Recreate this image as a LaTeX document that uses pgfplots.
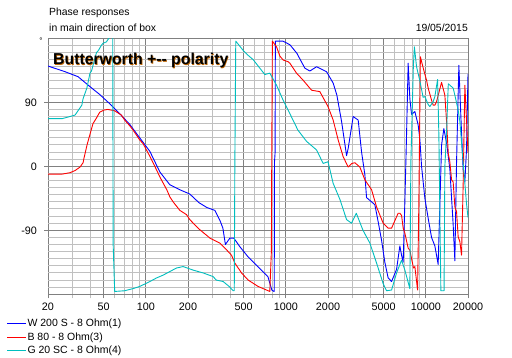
\documentclass[border=0pt]{standalone}
\usepackage{fontspec}
\setmainfont{Liberation Sans}
\usepackage{pgfplots}
\pgfplotsset{compat=1.18}
\definecolor{gridlight}{RGB}{192,192,192}
\definecolor{griddark}{RGB}{128,128,128}
\definecolor{mycyan}{RGB}{0,190,190}
\definecolor{shadowc}{RGB}{190,100,0}
\begin{document}
\begin{tikzpicture}
\useasboundingbox (0,0) rectangle (512pt,-358pt);
\begin{axis}[
  at={(48pt,-294.3pt)}, anchor=south west,
  scale only axis, width=420pt, height=256pt,
  xmode=log, xmin=20, xmax=20000, ymin=-180, ymax=180,
  xtick={20,50,100,200,500,1000,2000,5000,10000,20000},
  xticklabels={20,50,100,200,500,1000,2000,5000,10000,20000},
  minor xtick={30,40,60,70,80,90,300,400,600,700,800,900,3000,4000,6000,7000,8000,9000},
  ytick={-90,0,90}, yticklabels={-90,0,90},
  extra y ticks={-170,-160,-150,-140,-130,-120,-110,-100,-80,-70,-60,-50,-40,-30,-20,-10,10,20,30,40,50,60,70,80,100,110,120,130,140,150,160,170},
  extra y tick labels={},
  extra y tick style={grid=major, major grid style={gridlight, line width=1pt}, major tick length=0pt},
  grid=both,
  major grid style={griddark, line width=1pt},
  minor grid style={gridlight, line width=1pt},
  axis line style={griddark, line width=1pt},
  tick align=outside, tick pos=left,
  major tick length=4pt, minor tick length=4pt,
  tick style={griddark, line width=1pt},
  minor tick style={gridlight, line width=1pt},
  ticklabel style={font=\fontsize{10.8}{12}\selectfont},
  yticklabel style={xshift=-3.5pt},
  xticklabel style={yshift=-1pt},
  every axis plot/.append style={line width=0.9pt, line join=round},
  legend style={at={(axis description cs:-0.098,-0.093)}, anchor=north west, draw=none, fill=none, inner sep=0pt,
    font=\fontsize{10.5}{12}\selectfont, row sep=2.2pt,
    nodes={inner sep=0.6pt, text height=8pt, text depth=2pt}},
  legend cell align=left,
  legend image code/.code={\draw[mark repeat=2,mark phase=2,#1] plot coordinates {(0pt,0pt) (9.5pt,0pt) (19pt,0pt)};},
]
\addplot[blue] coordinates {
(20,141) (26.5,133) (32.8,126) (39.9,112) (46.8,101) (55.2,88) (65.0,74) (76.7,59) (90.4,40) (106.8,21) (125.9,-8) (148.4,-26) (174.9,-33) (206,-39) (239,-51) (273,-58) (311,-62) (338,-76) (355,-87) (370,-110) (398,-101) (425,-101) (469,-113) (535,-127) (631,-141) (744,-155) (794,-174) (821,-176) (826,-176) (829,5) (838,20) (841,176) (952,176) (1068,171) (1198,159) (1259,151) (1367,138) (1484,134) (1657,140) (1953,133) (2177,117) (2314,100) (2500,63) (2714,15) (2786,25) (3026,70) (3286,65) (3474,20) (3668,-12) (3770,-44) (4095,-50) (4321,-54) (4564,-78) (4826,-104) (5094,-135) (5378,-157) (5690,-162) (6176,-145) (6520,-112) (6705,-125) (6887,-135) (7080,-50) (7278,44) (7474,145) (7686,95) (7905,73) (8345,77) (8811,58) (9061,38) (9317,0) (9837,-45) (10385,-73) (10980,-100) (11594,-112) (12240,-138) (12589,-55) (12946,30) (13444,53) (14058,33) (14839,-4) (15667,-82) (16111,-133) (16567,6) (17207,142) (17783,70) (18468,-5) (18991,-22) (19530,25) (20000,130)
};
\addlegendentry{W 200 S - 8 Ohm(1)}
\addplot[red] coordinates {
(20,-11) (25.2,-11) (28.7,-9) (31.2,-6) (33.9,-1) (35.6,5) (36.2,12) (38.0,30) (39.9,45) (41.9,60) (44.4,68) (46.8,76) (50,79) (53.5,80) (59.9,78) (66.9,72) (70.6,65) (76.7,57) (81.0,51) (90.4,37) (95.5,32) (106.8,14) (119.2,-5) (125.9,-15) (141.1,-33) (148.4,-43) (156.6,-50) (174.9,-62) (195.3,-68) (206,-75) (239,-88) (287,-101) (338,-108) (367,-115) (409,-125) (432,-136) (482.5,-150) (538,-160) (634,-169) (708,-173) (768,-176) (788,-120) (792,-10) (801,176) (858,168) (906,155) (956,149.5) (1039,147) (1068,145) (1192,131) (1329,121) (1526,107) (1749,105) (2000,84) (2177,65) (2364,37) (2566,13.5) (2786,-1) (2960,4) (3110,5) (3376,-1) (3668,-19) (4095,-33) (4444,-57) (4954,-80) (5378,-87) (5690,-87) (6176,-71) (6340,-66) (6520,-66) (6705,-69) (6887,-87) (7080,-94) (7474,-115) (7686,-118) (8157,-143) (8345,-141) (8726,-174) (8913,-50) (9136,154) (9724,133) (10116,121) (10385,110) (10980,93) (11275,86) (11594,86) (11922,91) (12946,118) (13667,100) (14058,63) (14457,18) (14839,6) (15260,-19) (15667,-22) (16111,-57) (16567,-64) (17010,-99) (17492,-106) (17980,-125) (18468,-26) (18991,114) (19530,64) (20000,19)
};
\addlegendentry{B 80 - 8 Ohm(3)}
\addplot[mycyan] coordinates {
(20,67) (25.2,67) (28.7,70) (31.2,72) (34.9,86) (35.6,95) (37.9,110) (39.9,131) (40.9,134) (44.4,160) (45.5,162) (48.1,170) (49.4,173) (52.3,175) (55.2,182) (58.0,182) (58.4,-110) (59.9,-176) (70.6,-175) (81.0,-172) (90.4,-169) (106.8,-162) (119.2,-157) (132.9,-153) (148.4,-148) (165.6,-143) (184.7,-141) (217.7,-146) (256.6,-150) (301.7,-155) (318.5,-160) (356.2,-162) (393.6,-169) (420.5,-175) (428,-175) (432,0) (438.6,176) (495.5,163) (538,156) (584,150) (634,141) (708,129) (768,131) (858,114) (956,93) (1068,74) (1218,51) (1406,35) (1657,23) (1847,4) (2000,6.5) (2177,-24) (2437,-47) (2714,-75) (2946,-80) (3185,-66) (3556,-90) (3982,-108) (4444,-136) (4954,-165) (5235,-175) (5690,-174) (6176,-150) (6705,-132) (7080,-146) (7686,-172) (7814,4) (8140,140) (8278,168) (8580,140) (9061,120) (9558,97) (9837,98) (10385,87) (10680,84) (11275,91) (11594,98) (12126,122) (12384,44) (12797,-175) (13486,-175) (13667,0) (14058,48) (14457,116) (15260,112) (15667,110) (16111,100) (17010,79) (17492,63) (18468,5) (19530,-53) (20000,-72)
};
\addlegendentry{G 20 SC - 8 Ohm(4)}
\end{axis}
\node[anchor=base west, inner sep=0pt, font=\fontsize{10.4}{12}\selectfont] at (49pt,-15.7pt) {Phase responses};
\node[anchor=base west, inner sep=0pt, font=\fontsize{10.4}{12}\selectfont] at (49pt,-31.7pt) {in main direction of box};
\node[anchor=base east, inner sep=0pt, font=\fontsize{10.4}{12}\selectfont] at (468pt,-31.7pt) {19/05/2015};
\node[anchor=center, inner sep=0pt, font=\fontsize{8}{9}\selectfont] at (41pt,-41pt) {°};
\node[anchor=base west, inner sep=0pt, font=\bfseries\fontsize{15.8}{18}\selectfont, text=shadowc] at (53.7pt,-65.7pt) {Butterworth +{-}{-} polarity};
\node[anchor=base west, inner sep=0pt, font=\bfseries\fontsize{15.8}{18}\selectfont] at (53pt,-65pt) {Butterworth +{-}{-} polarity};
\end{tikzpicture}
\end{document}
